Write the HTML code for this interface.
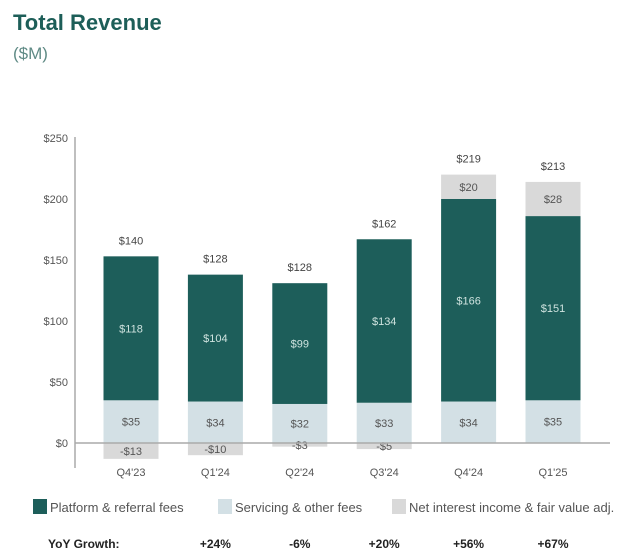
<!DOCTYPE html>
<html><head><meta charset="utf-8"><style>
body{margin:0;background:#fff;font-family:"Liberation Sans",sans-serif;}
#wrap{position:relative;width:640px;height:560px;overflow:hidden;}
.t{position:absolute;}
</style></head><body>
<div id="wrap">
<div class="t" style="left:13px;top:10px;font-size:22px;font-weight:bold;color:#1d5e58;">Total Revenue</div>
<div class="t" style="left:13px;top:44px;font-size:17px;color:#5f8a85;">($M)</div>
<svg id="chart" width="640" height="560" style="position:absolute;left:0;top:0"></svg>
</div>
<script>
const categories=["Q4'23","Q1'24","Q2'24","Q3'24","Q4'24","Q1'25"];
const platform=[118,104,99,134,166,151];
const servicing=[35,34,32,33,34,35];
const netInterest=[-13,-10,-3,-5,20,28];
const totals=[140,128,128,162,219,213];
const growth=["","+24%","-6%","+20%","+56%","+67%"];
const yTicks=[0,50,100,150,200,250];
const NS="http://www.w3.org/2000/svg";
const svg=document.getElementById('chart');
const y0=443,pxPer=1.22;
const y=v=>y0-v*pxPer;
const xC=i=>131+i*84.4;
const bw=55;
function mk(tag,attrs,txt){const e=document.createElementNS(NS,tag);for(const k in attrs)e.setAttribute(k,attrs[k]);if(txt!==undefined)e.textContent=txt;svg.appendChild(e);return e;}
let ax=mk('line',{x1:75,y1:137,x2:75,y2:468,stroke:'#aaa','stroke-width':1.5});


yTicks.forEach(v=>{const t=mk('text',{x:68,y:y(v)+4,'text-anchor':'end','font-size':11,fill:'#555'},'$'+v);

});
categories.forEach((c,i)=>{
 const x=xC(i)-bw/2;
 let r;
 r=mk('rect',{x:x,y:y(servicing[i]),width:bw,height:servicing[i]*pxPer,fill:'#d3e0e5'});
 
 
 r=mk('rect',{x:x,y:y(servicing[i]+platform[i]),width:bw,height:platform[i]*pxPer,fill:'#1d5e5a'});
 
 
 const n=netInterest[i];
 let ny,nh;
 if(n<0){ny=y0;nh=-n*pxPer;}else{ny=y(servicing[i]+platform[i]+n);nh=n*pxPer;}
 r=mk('rect',{x:x,y:ny,width:bw,height:nh,fill:'#d9d9d9'});
 
 
 let t;
 t=mk('text',{x:xC(i),y:y(servicing[i]/2)+4,'text-anchor':'middle','font-size':11,fill:'#555'},'$'+servicing[i]);
 
 
 t=mk('text',{x:xC(i),y:y(servicing[i]+platform[i]/2)+4,'text-anchor':'middle','font-size':11,fill:'#cfe3df'},'$'+platform[i]);
 
 
 const nl=n<0?'-$'+(-n):'$'+n;
 t=mk('text',{x:xC(i),y:ny+nh/2+4,'text-anchor':'middle','font-size':11,fill:'#555'},nl);
 
 
 const top=servicing[i]+platform[i]+Math.max(n,0);
 t=mk('text',{x:xC(i),y:y(top)-12,'text-anchor':'middle','font-size':11,fill:'#444'},'$'+totals[i]);
 
 
 t=mk('text',{x:xC(i),y:476,'text-anchor':'middle','font-size':11,fill:'#555'},c);
 
 
 if(growth[i]){t=mk('text',{x:xC(i),y:548,'text-anchor':'middle','font-size':12,'font-weight':'bold',fill:'#222'},growth[i]);
 
 }
});
let bl=mk('line',{x1:75,y1:y0,x2:610,y2:y0,stroke:'#aaa','stroke-width':1.5});


const legend=[["Platform & referral fees","#1d5e5a",33],["Servicing & other fees","#d3e0e5",218],["Net interest income & fair value adj.","#d9d9d9",392]];
legend.forEach(l=>{
 let r=mk('rect',{x:l[2],y:499,width:14,height:15,fill:l[1]});
 
 
 let t=mk('text',{x:l[2]+17,y:512,'font-size':13,fill:'#555'},l[0]);
 
 
});
let yl=mk('text',{x:48,y:548,'font-size':12,'font-weight':'bold',fill:'#222'},'YoY Growth:');


</script>
</body></html>
